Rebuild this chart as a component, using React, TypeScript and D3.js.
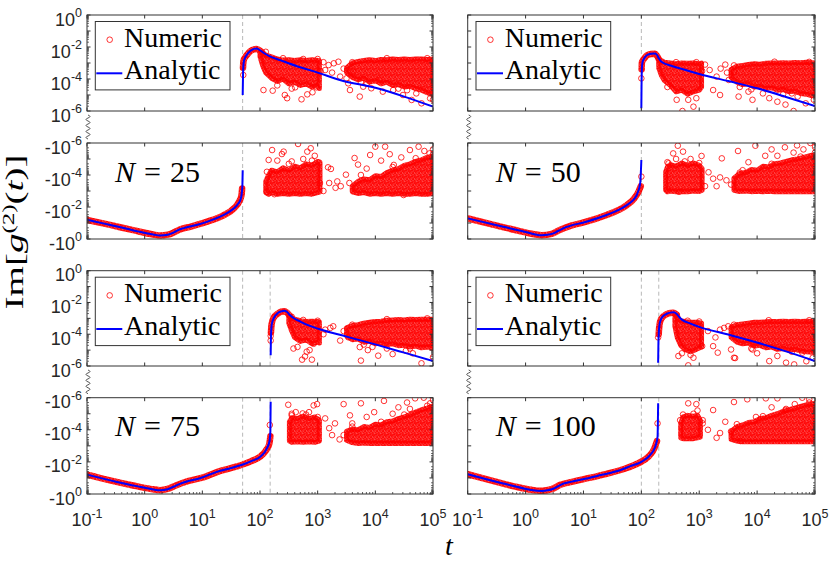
import React from 'react';
import * as d3 from 'd3';

// every pair is [log10 t, log10 |Im g2|]; cloud rows are [log10 t, top, bottom]
type P = [number, number];
type B = [number, number, number];

const xExps = [-1, 0, 1, 2, 3, 4, 5];
const upLabelExps = [0, -2, -4, -6];
const lowLabelExps = [-6, -4, -2, 0];

// ---------- N = 25 ----------
const dash25 = [50];
const up25Line: P[] = [[1.70, -5.0], [1.705, -3.9], [1.71, -3.3], [1.72, -2.9], [1.75, -2.6], [1.8, -2.36], [1.86, -2.18], [1.94, -2.1], [1.99, -2.18], [2.06, -2.36], [2.17, -2.58], [2.35, -2.82], [2.64, -3.2], [3.0, -3.6], [3.4, -4.08], [4.0, -4.55], [4.5, -5.1], [5.0, -5.73]];
const up25Num: P[] = [[1.705, -3.3], [1.715, -2.85], [1.75, -2.6], [1.8, -2.38], [1.86, -2.2], [1.94, -2.13], [1.99, -2.2], [2.04, -2.35]];
const up25Cloud: B[][] = [
  [[2.0, -2.35, -2.6], [2.05, -2.4, -3.2], [2.1, -2.5, -3.6], [2.2, -2.62, -3.95], [2.3, -2.75, -4.15], [2.4, -2.82, -4.0], [2.5, -2.8, -4.3], [2.6, -2.85, -4.2], [2.7, -2.8, -4.4], [2.8, -2.85, -4.3], [2.9, -2.8, -4.5], [2.98, -2.82, -4.4], [3.03, -2.85, -4.6]],
  [[3.5, -3.3, -3.6], [3.6, -3.0, -3.9], [3.7, -2.9, -4.05], [3.8, -2.85, -3.95], [3.9, -2.8, -4.2], [4.0, -2.85, -4.1], [4.1, -2.78, -4.3], [4.2, -2.8, -4.2], [4.3, -2.75, -4.4], [4.4, -2.78, -4.35], [4.5, -2.75, -4.5], [4.6, -2.78, -4.45], [4.7, -2.75, -4.6], [4.8, -2.75, -4.7], [4.9, -2.78, -4.85], [5.0, -2.75, -5.0]],
];
const up25Pts: P[] = [[1.71, -3.75], [2.06, -4.69], [2.22, -4.73], [2.43, -5.0], [2.47, -5.2], [2.61, -4.52], [2.72, -5.27], [2.82, -4.96], [2.91, -4.83], [2.98, -4.52], [2.3, -4.4], [2.55, -4.6],
  [2.1, -2.3], [2.4, -2.7], [2.75, -2.75], [3.0, -2.75], [3.05, -3.5],
  [3.13, -3.44], [3.19, -3.13], [3.28, -3.02], [3.36, -2.92], [3.45, -3.35], [3.39, -3.85], [3.53, -4.27], [3.56, -4.69], [3.73, -5.1], [3.5, -3.96], [3.62, -3.54], [3.1, -2.95], [3.25, -3.6],
  [3.6, -2.95], [4.2, -2.7], [4.9, -2.7], [3.75, -4.2], [4.55, -4.7],
  [3.79, -4.48], [3.93, -4.58], [4.13, -4.79], [4.31, -4.69], [4.48, -5.0], [4.63, -5.31], [4.8, -5.52], [4.95, -5.21], [5.0, -5.3], [4.07, -4.06], [4.71, -4.9], [4.4, -4.6], [3.85, -4.3]];
const low25Line: P[] = [[-1, -1.2], [-0.7, -0.96], [-0.4, -0.72], [-0.1, -0.46], [0.15, -0.28], [0.27, -0.22], [0.4, -0.27], [0.5, -0.4], [0.58, -0.56], [0.68, -0.68], [0.9, -0.88], [1.1, -1.1], [1.3, -1.38], [1.45, -1.66], [1.55, -1.92], [1.62, -2.2], [1.665, -2.5], [1.685, -2.9], [1.695, -3.4], [1.70, -4.3]];
const low25Num: P[] = [[-1, -1.2], [-0.6, -0.88], [-0.2, -0.55], [0.15, -0.28], [0.27, -0.22], [0.4, -0.27], [0.5, -0.4], [0.6, -0.58], [0.8, -0.78], [1.1, -1.1], [1.35, -1.45], [1.55, -1.92], [1.64, -2.35], [1.68, -2.75], [1.69, -3.15]];
const low25Cloud: B[][] = [
  [[2.1, -3.6, -2.9], [2.15, -4.0, -2.8], [2.2, -4.3, -2.9], [2.3, -4.2, -2.8], [2.4, -4.45, -2.85], [2.5, -4.3, -2.8], [2.6, -4.55, -2.85], [2.7, -4.45, -2.8], [2.8, -4.7, -2.85], [2.9, -4.6, -2.8], [3.0, -4.85, -2.9], [3.04, -4.8, -2.95]],
  [[3.6, -3.3, -2.95], [3.7, -3.6, -2.85], [3.8, -3.75, -2.9], [3.9, -3.7, -2.8], [4.0, -3.95, -2.85], [4.1, -3.9, -2.8], [4.2, -4.15, -2.85], [4.3, -4.3, -2.8], [4.4, -4.4, -2.85], [4.5, -4.6, -2.8], [4.6, -4.7, -2.8], [4.7, -4.85, -2.85], [4.8, -4.95, -2.8], [4.9, -5.1, -2.8], [5.0, -5.2, -2.85]],
];
const low25Pts: P[] = [[2.66, -5.94], [2.21, -5.56], [2.41, -5.46], [2.15, -4.94], [2.38, -5.31], [2.82, -5.46], [2.88, -5.67], [2.3, -4.9], [2.55, -4.85], [2.75, -5.0], [2.12, -2.95], [2.95, -5.2],
  [2.12, -4.2], [2.5, -4.7], [2.9, -4.9], [3.04, -3.5], [2.25, -2.8],
  [3.18, -4.48], [3.23, -4.38], [3.2, -3.5], [3.34, -3.6], [3.49, -4.02], [3.64, -5.06], [3.7, -4.65], [3.31, -3.2], [3.55, -3.5], [3.4, -3.3], [3.1, -3.0],
  [3.75, -4.0], [4.3, -4.5], [4.7, -5.05], [5.0, -5.3], [3.65, -3.2],
  [4.0, -5.77], [4.17, -5.77], [3.91, -5.25], [4.32, -4.63], [4.6, -5.56], [4.75, -5.77], [4.94, -5.35], [4.49, -2.75], [4.1, -4.9], [4.45, -5.1], [4.85, -5.5], [3.85, -4.4], [5.0, -5.6], [4.25, -5.3]];

// ---------- N = 50 ----------
const dash50 = [100];
const up50Line: P[] = [[2.0, -5.83], [2.003, -4.5], [2.01, -3.3], [2.02, -2.95], [2.05, -2.7], [2.1, -2.5], [2.17, -2.42], [2.236, -2.4], [2.27, -2.5], [2.3, -2.7], [2.34, -2.9], [2.54, -3.2], [2.75, -3.42], [3.0, -3.69], [3.5, -4.13], [4.0, -4.58], [4.5, -5.12], [5.0, -5.69]];
const up50Num: P[] = [[2.005, -3.4], [2.01, -2.95], [2.05, -2.72], [2.1, -2.52], [2.17, -2.44], [2.236, -2.42], [2.27, -2.55], [2.3, -2.75]];
const up50Cloud: B[][] = [
  [[2.3, -2.75, -3.3], [2.35, -2.9, -3.8], [2.4, -2.95, -4.1], [2.5, -3.0, -4.4], [2.6, -3.05, -4.8], [2.7, -3.0, -4.7], [2.8, -3.02, -4.95], [2.9, -3.0, -4.8], [3.0, -3.05, -4.7], [3.04, -3.0, -4.5]],
  [[3.55, -3.4, -3.9], [3.65, -3.2, -4.2], [3.75, -3.15, -4.35], [3.85, -3.1, -4.3], [3.95, -3.05, -4.5], [4.05, -3.08, -4.45], [4.15, -3.02, -4.6], [4.25, -3.0, -4.55], [4.35, -3.0, -4.7], [4.45, -2.98, -4.65], [4.55, -3.0, -4.8], [4.65, -2.97, -4.75], [4.75, -2.98, -4.9], [4.85, -2.96, -4.95], [4.95, -2.98, -5.05], [5.0, -3.0, -5.05]],
];
const up50Pts: P[] = [[2.0, -3.96], [2.71, -6.0], [2.9, -5.73], [2.61, -5.3], [2.81, -5.3], [2.45, -4.5], [2.95, -5.2],
  [2.35, -2.9], [2.6, -2.95], [2.95, -2.95], [3.05, -3.5],
  [3.24, -4.69], [3.36, -5.0], [3.18, -3.44], [3.37, -3.35], [3.48, -3.6], [3.51, -4.06], [3.68, -5.1], [3.6, -3.54], [3.3, -3.85], [3.1, -3.1], [3.45, -3.1],
  [3.6, -3.15], [4.3, -2.92], [4.9, -2.93], [3.9, -4.65], [4.6, -4.9],
  [3.85, -4.79], [3.92, -5.3], [4.21, -5.2], [4.35, -5.42], [4.63, -6.0], [4.49, -5.6], [4.84, -5.52], [4.98, -5.3], [4.1, -4.9], [4.7, -5.1], [3.7, -4.5], [4.45, -4.95]];
const low50Line: P[] = [[-1, -1.29], [-0.385, -0.77], [0.02, -0.42], [0.15, -0.3], [0.28, -0.23], [0.38, -0.26], [0.48, -0.35], [0.56, -0.5], [0.65, -0.67], [1.05, -1.08], [1.4, -1.5], [1.6, -1.8], [1.75, -2.12], [1.85, -2.4], [1.92, -2.75], [1.98, -3.48], [2.0, -4.94]];
const low50Num: P[] = [[-1, -1.29], [-0.6, -0.93], [-0.2, -0.58], [0.15, -0.3], [0.28, -0.24], [0.45, -0.32], [0.6, -0.58], [0.8, -0.85], [1.05, -1.08], [1.4, -1.5], [1.6, -1.8], [1.75, -2.12], [1.88, -2.55], [1.95, -2.95], [1.99, -3.3]];
const low50Cloud: B[][] = [
  [[2.42, -4.2, -3.05], [2.45, -4.5, -2.95], [2.5, -4.65, -3.0], [2.6, -4.55, -2.95], [2.7, -4.75, -2.97], [2.8, -4.6, -2.95], [2.9, -4.75, -3.0], [3.0, -4.6, -2.97], [3.05, -4.4, -3.05]],
  [[3.6, -3.8, -3.05], [3.7, -4.1, -2.97], [3.8, -4.15, -3.0], [3.9, -4.35, -2.96], [4.0, -4.3, -2.98], [4.1, -4.55, -2.96], [4.2, -4.5, -2.98], [4.3, -4.7, -2.96], [4.4, -4.75, -2.97], [4.5, -4.85, -2.96], [4.6, -4.95, -2.97], [4.7, -5.0, -2.96], [4.8, -5.1, -2.97], [4.9, -5.2, -2.96], [5.0, -5.25, -2.96]],
];
const low50Pts: P[] = [[2.0, -3.9], [2.63, -5.83], [2.55, -5.35], [2.72, -5.46], [3.04, -5.19], [2.47, -4.73], [2.85, -5.0], [2.6, -5.0], [2.45, -3.1],
  [2.45, -4.8], [2.75, -4.85], [3.0, -4.75], [2.65, -2.95],
  [3.16, -4.17], [3.24, -3.77], [3.36, -3.85], [3.47, -3.67], [3.67, -5.5], [3.39, -5.04], [3.7, -4.15], [3.1, -3.3], [3.3, -3.3], [3.55, -3.4],
  [3.75, -4.3], [4.25, -4.7], [4.75, -5.15], [5.0, -5.4],
  [3.97, -5.83], [4.25, -5.6], [4.48, -5.73], [4.69, -5.85], [4.92, -6.0], [4.14, -5.2], [4.63, -5.4], [3.85, -4.8], [4.35, -5.2], [4.8, -5.6], [5.0, -5.75]];

// ---------- N = 75 ----------
const dash75 = [50, 150];
const up75Line: P[] = [[2.185, -5.33], [2.19, -4.2], [2.2, -3.5], [2.22, -3.15], [2.24, -2.98], [2.31, -2.66], [2.37, -2.56], [2.42, -2.52], [2.47, -2.6], [2.52, -2.8], [2.58, -2.98], [2.7, -3.2], [2.81, -3.4], [3.02, -3.67], [3.5, -4.15], [4.0, -4.64], [4.5, -5.16], [5.0, -5.69]];
const up75Num: P[] = [[2.19, -3.9], [2.2, -3.4], [2.23, -3.0], [2.31, -2.7], [2.37, -2.58], [2.42, -2.55], [2.47, -2.65], [2.52, -2.85]];
const up75Cloud: B[][] = [
  [[2.5, -2.85, -3.3], [2.55, -2.95, -3.8], [2.6, -3.05, -4.2], [2.7, -3.15, -4.45], [2.8, -3.2, -4.35], [2.9, -3.18, -4.6], [3.0, -3.2, -4.5], [3.03, -3.22, -4.55]],
  [[3.5, -3.6, -4.1], [3.6, -3.45, -4.35], [3.7, -3.4, -4.3], [3.8, -3.3, -4.5], [3.9, -3.25, -4.45], [4.0, -3.2, -4.6], [4.1, -3.18, -4.55], [4.2, -3.12, -4.65], [4.3, -3.1, -4.6], [4.4, -3.08, -4.72], [4.5, -3.1, -4.7], [4.6, -3.05, -4.8], [4.7, -3.07, -4.75], [4.8, -3.05, -4.85], [4.9, -3.05, -4.8], [5.0, -3.05, -4.9]],
];
const up75Pts: P[] = [[2.185, -4.1], [2.185, -4.4], [2.73, -5.6], [2.9, -5.6], [2.81, -5.1], [2.58, -4.9], [2.93, -4.6], [2.78, -5.4], [2.65, -4.8], [2.86, -5.0],
  [2.55, -2.9], [2.75, -3.1], [3.0, -3.15],
  [3.13, -3.71], [3.22, -3.6], [3.39, -4.4], [3.53, -4.19], [3.73, -4.81], [3.27, -3.5], [3.45, -3.8], [3.1, -4.0],
  [3.6, -3.4], [4.2, -3.05], [4.9, -3.0], [3.8, -4.65], [4.6, -4.9],
  [3.75, -5.66], [4.05, -5.35], [4.8, -5.83], [5.0, -5.45], [4.3, -5.25], [4.53, -5.04], [3.87, -5.0], [4.2, -4.9], [4.65, -5.2], [3.95, -4.8]];
const low75Line: P[] = [[-1, -1.21], [-0.48, -0.75], [-0.07, -0.44], [0.15, -0.28], [0.266, -0.23], [0.4, -0.3], [0.5, -0.45], [0.6, -0.62], [0.75, -0.8], [0.96, -0.98], [1.25, -1.38], [1.5, -1.62], [1.69, -1.82], [1.85, -2.05], [2.0, -2.31], [2.12, -2.84], [2.165, -3.3], [2.18, -3.9], [2.185, -5.75]];
const low75Num: P[] = [[-1, -1.21], [-0.6, -0.85], [-0.2, -0.53], [0.1, -0.32], [0.266, -0.24], [0.4, -0.32], [0.55, -0.55], [0.75, -0.8], [1.0, -1.02], [1.3, -1.42], [1.6, -1.72], [1.85, -2.05], [2.0, -2.32], [2.1, -2.7], [2.16, -3.1], [2.18, -3.6]];
const low75Cloud: B[][] = [
  [[2.51, -4.5, -3.3], [2.55, -4.75, -3.22], [2.65, -4.7, -3.25], [2.75, -4.85, -3.22], [2.85, -4.7, -3.25], [2.95, -4.8, -3.22], [3.03, -4.6, -3.3]],
  [[3.5, -3.9, -3.35], [3.6, -4.05, -3.2], [3.7, -4.0, -3.15], [3.8, -4.2, -3.18], [3.9, -4.15, -3.15], [4.0, -4.35, -3.15], [4.1, -4.3, -3.15], [4.2, -4.5, -3.15], [4.3, -4.55, -3.15], [4.4, -4.7, -3.15], [4.5, -4.8, -3.15], [4.6, -4.95, -3.15], [4.7, -5.1, -3.15], [4.8, -5.25, -3.15], [4.9, -5.35, -3.15], [5.0, -5.5, -3.15]],
];
const low75Pts: P[] = [[2.49, -5.56], [2.74, -5.02], [2.93, -5.52], [2.99, -5.6], [2.62, -5.1], [2.55, -5.0], [2.85, -5.1], [2.17, -4.3],
  [2.55, -4.9], [2.8, -4.95], [3.0, -4.8],
  [3.13, -4.71], [3.25, -3.67], [3.3, -4.4], [3.45, -3.67], [3.56, -4.9], [3.45, -5.6], [3.2, -4.1], [3.38, -3.4], [3.6, -4.4],
  [3.6, -4.2], [4.1, -4.5], [4.5, -4.95], [4.9, -5.5],
  [3.75, -5.65], [4.69, -5.96], [4.84, -6.0], [4.95, -5.65], [3.98, -5.1], [4.4, -5.4], [4.15, -5.8], [3.85, -4.8], [4.3, -5.0], [4.6, -5.3], [5.0, -5.85], [4.55, -5.7]];

// ---------- N = 100 ----------
const dash100 = [100, 200];
const up100Line: P[] = [[2.29, -5.79], [2.295, -4.5], [2.31, -3.5], [2.33, -3.15], [2.35, -2.98], [2.44, -2.71], [2.5, -2.64], [2.55, -2.62], [2.61, -2.72], [2.65, -2.9], [2.7, -3.08], [2.85, -3.33], [3.0, -3.54], [3.5, -4.02], [3.98, -4.5], [4.5, -5.08], [5.0, -5.69]];
const up100Num: P[] = [[2.3, -4.0], [2.31, -3.5], [2.34, -3.05], [2.44, -2.73], [2.5, -2.66], [2.55, -2.65], [2.61, -2.76]];
const up100Cloud: B[][] = [
  [[2.58, -2.8, -3.5], [2.62, -3.0, -4.2], [2.68, -3.15, -4.7], [2.75, -3.2, -4.95], [2.85, -3.25, -5.1], [2.95, -3.25, -4.95], [3.04, -3.3, -4.8]],
  [[3.55, -3.55, -4.2], [3.65, -3.4, -4.5], [3.75, -3.35, -4.6], [3.85, -3.3, -4.55], [3.95, -3.25, -4.75], [4.05, -3.25, -4.7], [4.15, -3.22, -4.85], [4.25, -3.2, -4.8], [4.35, -3.2, -4.95], [4.45, -3.18, -4.9], [4.55, -3.2, -5.0], [4.65, -3.18, -4.95], [4.75, -3.2, -5.05], [4.85, -3.18, -5.1], [5.0, -3.2, -5.15]],
];
const up100Pts: P[] = [[2.29, -4.2], [2.81, -5.96], [2.64, -5.37], [2.9, -5.48], [3.05, -4.75], [2.7, -5.2], [2.85, -5.3],
  [2.62, -2.9], [2.8, -3.15], [3.0, -3.2],
  [3.24, -4.75], [3.32, -5.16], [3.36, -3.71], [3.6, -5.48], [3.55, -4.96], [3.43, -3.6], [3.15, -3.8], [3.28, -4.2], [3.5, -3.5],
  [3.6, -3.4], [4.2, -3.12], [4.9, -3.12], [3.9, -4.9], [4.6, -5.1],
  [3.92, -4.96], [4.21, -5.69], [4.5, -5.79], [4.64, -5.9], [4.78, -5.16], [4.96, -5.48], [4.35, -5.37], [3.62, -5.5], [4.0, -5.2], [4.85, -5.7]];
const low100Line: P[] = [[-1, -1.23], [-0.385, -0.65], [0.076, -0.27], [0.2, -0.2], [0.278, -0.19], [0.38, -0.23], [0.48, -0.33], [0.56, -0.48], [0.65, -0.65], [0.8, -0.77], [1.05, -0.96], [1.3, -1.18], [1.63, -1.48], [1.8, -1.72], [2.0, -2.0], [2.15, -2.42], [2.24, -2.94], [2.28, -3.56], [2.29, -5.65]];
const low100Num: P[] = [[-1, -1.23], [-0.6, -0.85], [-0.2, -0.48], [0.1, -0.26], [0.278, -0.2], [0.45, -0.3], [0.6, -0.57], [0.85, -0.8], [1.1, -1.0], [1.4, -1.26], [1.7, -1.56], [1.95, -1.92], [2.12, -2.32], [2.22, -2.8], [2.27, -3.3]];
const low100Cloud: B[][] = [
  [[2.68, -4.4, -3.5], [2.72, -4.8, -3.45], [2.8, -4.9, -3.45], [2.9, -4.85, -3.45], [2.97, -4.9, -3.5], [3.02, -4.6, -3.55]],
  [[3.55, -3.9, -3.4], [3.65, -4.2, -3.3], [3.75, -4.3, -3.25], [3.85, -4.45, -3.25], [3.95, -4.5, -3.25], [4.05, -4.7, -3.25], [4.15, -4.75, -3.25], [4.25, -4.9, -3.25], [4.35, -5.0, -3.25], [4.45, -5.15, -3.25], [4.55, -5.25, -3.25], [4.65, -5.35, -3.25], [4.75, -5.45, -3.25], [4.85, -5.55, -3.25], [5.0, -5.65, -3.25]],
];
const low100Pts: P[] = [[2.81, -5.65], [2.95, -5.6], [2.67, -4.6], [3.06, -4.6], [2.97, -5.2], [2.28, -4.4],
  [2.72, -4.95], [2.9, -5.0],
  [3.24, -5.23], [3.06, -4.4], [3.15, -4.0], [3.36, -3.8], [3.55, -3.9], [3.71, -3.3], [3.6, -5.73], [3.3, -3.5], [3.45, -4.5],
  [3.65, -4.35], [4.1, -4.85], [4.5, -5.3], [4.9, -5.7],
  [3.83, -5.9], [4.15, -5.96], [4.35, -5.96], [4.78, -6.0], [4.49, -5.23], [3.98, -4.8], [4.65, -5.6], [4.9, -5.9], [4.25, -5.4]];

const panels = [
  { n: 25, col: 0, row: 0, dashes: dash25, up: [up25Line, up25Num, up25Cloud, up25Pts], low: [low25Line, low25Num, low25Cloud, low25Pts] },
  { n: 50, col: 1, row: 0, dashes: dash50, up: [up50Line, up50Num, up50Cloud, up50Pts], low: [low50Line, low50Num, low50Cloud, low50Pts] },
  { n: 75, col: 0, row: 1, dashes: dash75, up: [up75Line, up75Num, up75Cloud, up75Pts], low: [low75Line, low75Num, low75Cloud, low75Pts] },
  { n: 100, col: 1, row: 1, dashes: dash100, up: [up100Line, up100Num, up100Cloud, up100Pts], low: [low100Line, low100Num, low100Cloud, low100Pts] },
] as const;

const COLS = [{ x0: 87, x1: 433 }, { x0: 467.7, x1: 815 }];
const ROWS = [{ uTop: 15, uBot: 111, lTop: 143, lBot: 239 }, { uTop: 270.7, uBot: 366, lTop: 397.7, lBot: 494 }];

const AX = '#333333';
const RED = '#ff0000';
const BLUE = '#0000ff';
const SANS = '"Liberation Sans", Arial, sans-serif';
const SERIF = '"Liberation Serif", "Times New Roman", serif';

const p10 = (e: number) => Math.pow(10, e);

// ring texture used to paint the dense marker clouds
const ringSpots = [[1, 1.2], [4.2, 2.1], [2.2, 4.6], [5.2, 5.0], [3.2, 0.2]];
const TILE = 6;

function Pow({ x, y, base, exp, anchor }: { x: number; y: number; base: string; exp: number; anchor: 'end' | 'middle' }) {
  return (
    <text x={x} y={y} textAnchor={anchor} fontFamily={SANS} fontSize={18} fill="#262626">
      <tspan>{base}</tspan>
      <tspan dy={-8.5} fontSize={12.5}>{exp}</tspan>
    </text>
  );
}

function wiggle(x: number, y0: number, y1: number) {
  const n = 8;
  const h = (y1 - y0) / n;
  let d = `M${x},${y0}`;
  for (let i = 0; i < n; i++) {
    d += ` Q${x + (i % 2 ? -4 : 4)},${y0 + h * (i + 0.5)} ${x},${y0 + h * (i + 1)}`;
  }
  return d;
}

function SubAxes({ id, x, y, top, bot, x0, x1, line, num, cloud, pts, dashes, leftLabels, minorLeft, minorBottom, flip }: any) {
  const xp = (d: P | B) => x(p10(d[0]));
  const lineGen = d3.line<P>().x(xp).y(d => y(p10(d[1]))).curve(d3.curveMonotoneX);
  const areaGen = d3.area<B>().x(xp).y0(d => y(p10(d[2]))).y1(d => y(p10(d[1]))).curve(d3.curveLinear);
  const majorY = d3.range(-6, 1);
  const minorY: number[] = [];
  for (let e = -6; e < 0; e++) for (let m = 2; m <= 9; m++) minorY.push(m * p10(e));
  const minorX: number[] = [];
  for (let e = -1; e < 5; e++) for (let m = 2; m <= 9; m++) minorX.push(m * p10(e));
  return (
    <g>
      <defs>
        <clipPath id={id}><rect x={x0} y={top} width={x1 - x0} height={bot - top} /></clipPath>
      </defs>
      <g clipPath={`url(#${id})`}>
        {dashes.map((t: number) => (
          <line key={t} x1={x(t)} x2={x(t)} y1={top} y2={bot} stroke="#9a9a9a" strokeWidth={0.7} strokeDasharray="4 3" />
        ))}
        {cloud.map((seg: B[], i: number) => (
          <path key={i} d={areaGen(seg) || ''} fill="url(#cloud)" stroke="url(#cloud)" strokeWidth={5} strokeLinejoin="round" />
        ))}
        <path d={lineGen(num) || ''} fill="none" stroke="url(#cloud)" strokeWidth={6.5} strokeLinecap="round" />
        {pts.map((d: P, i: number) => (
          <circle key={i} cx={xp(d)} cy={y(p10(d[1]))} r={2.8} fill="none" stroke={RED} strokeWidth={0.8} />
        ))}
        <path d={lineGen(line) || ''} fill="none" stroke={BLUE} strokeWidth={2} />
      </g>
      <rect x={x0} y={top} width={x1 - x0} height={bot - top} fill="none" stroke={AX} strokeWidth={1} />
      {xExps.map(e => (
        <g key={e}>
          <line x1={x(p10(e))} x2={x(p10(e))} y1={top} y2={top + 3.5} stroke={AX} />
          <line x1={x(p10(e))} x2={x(p10(e))} y1={bot} y2={bot - 3.5} stroke={AX} />
        </g>
      ))}
      {minorBottom && minorX.map((t, i) => (
        <line key={i} x1={x(t)} x2={x(t)} y1={bot} y2={bot - 2} stroke={AX} strokeWidth={0.8} />
      ))}
      {majorY.map(e => (
        <g key={e}>
          <line x1={x0} x2={x0 + 3.5} y1={y(p10(e))} y2={y(p10(e))} stroke={AX} />
          <line x1={x1} x2={x1 - 3.5} y1={y(p10(e))} y2={y(p10(e))} stroke={AX} />
        </g>
      ))}
      {minorY.map((v, i) => (
        <g key={i}>
          {minorLeft && <line x1={x0} x2={x0 + 2} y1={y(v)} y2={y(v)} stroke={AX} strokeWidth={0.7} />}
          <line x1={x1} x2={x1 - 2} y1={y(v)} y2={y(v)} stroke={AX} strokeWidth={0.7} />
        </g>
      ))}
      {leftLabels && leftLabels.map((e: number) => (
        <Pow key={e} x={x0 - 5} y={y(p10(e)) + 10.5} base={flip ? '-10' : '10'} exp={e} anchor="end" />
      ))}
    </g>
  );
}

export default function App() {
  return (
    <svg width={830} height={575} style={{ position: 'absolute', left: 0, top: 0, background: '#fff' }}>
      <defs>
        <pattern id="cloud" patternUnits="userSpaceOnUse" width={TILE} height={TILE}>
          {ringSpots.flatMap(([cx, cy], i) =>
            [-TILE, 0, TILE].flatMap(dx => [-TILE, 0, TILE].map(dy => (
              <circle key={`${i}-${dx}-${dy}`} cx={cx + dx} cy={cy + dy} r={2.6} fill="none" stroke={RED} strokeWidth={0.8} />
            ))))}
        </pattern>
      </defs>
      {panels.map(p => {
        const c = COLS[p.col];
        const r = ROWS[p.row];
        const x = d3.scaleLog().domain([0.1, 1e5]).range([c.x0, c.x1]);
        const yUp = d3.scaleLog().domain([1e-6, 1]).range([r.uBot, r.uTop]);
        const yLow = d3.scaleLog().domain([1e-6, 1]).range([r.lTop, r.lBot]);
        const left = p.col === 0;
        const bottomRow = p.row === 1;
        return (
          <g key={p.n}>
            <SubAxes id={`u${p.n}`} x={x} y={yUp} top={r.uTop} bot={r.uBot} x0={c.x0} x1={c.x1}
              line={p.up[0]} num={p.up[1]} cloud={p.up[2]} pts={p.up[3]} dashes={p.dashes}
              leftLabels={left ? upLabelExps : null} minorLeft={left} minorBottom={false} flip={false} />
            <SubAxes id={`l${p.n}`} x={x} y={yLow} top={r.lTop} bot={r.lBot} x0={c.x0} x1={c.x1}
              line={p.low[0]} num={p.low[1]} cloud={p.low[2]} pts={p.low[3]} dashes={p.dashes}
              leftLabels={left ? lowLabelExps : null} minorLeft={left} minorBottom={bottomRow} flip={true} />
            <path d={wiggle(c.x0 + 1, r.uBot + 4, r.lTop - 4)} fill="none" stroke="#444" strokeWidth={0.9} />
            {/* legend */}
            <g>
              <rect x={c.x0 + 8.3} y={r.uTop + 6.5} width={134.7} height={68.4} fill="#fff" stroke={AX} strokeWidth={1} />
              <circle cx={c.x0 + 22.7} cy={r.uTop + 24.7} r={2.8} fill="none" stroke={RED} strokeWidth={0.8} />
              <line x1={c.x0 + 9.3} x2={c.x0 + 35.3} y1={r.uTop + 58.3} y2={r.uTop + 58.3} stroke={BLUE} strokeWidth={2} />
              <text x={c.x0 + 37} y={r.uTop + 31.5} fontFamily={SERIF} fontSize={28} fill="#000">Numeric</text>
              <text x={c.x0 + 37} y={r.uTop + 64.3} fontFamily={SERIF} fontSize={28} fill="#000">Analytic</text>
            </g>
            <text y={r.lTop + 38.7} fontFamily={SERIF} fontSize={30} fill="#000">
              <tspan x={c.x0 + 28} fontStyle="italic">N</tspan>
              <tspan x={c.x0 + 57}>=</tspan>
              <tspan x={c.x0 + 83}>{p.n}</tspan>
            </text>
            {bottomRow && xExps.map(e => (
              <Pow key={e} x={x(p10(e))} y={526} base="10" exp={e} anchor="middle" />
            ))}
          </g>
        );
      })}
      <text transform="translate(23,232) rotate(-90)" textAnchor="middle" fontFamily={SERIF} fontSize={25}
        textLength={155} lengthAdjust="spacingAndGlyphs" fill="#000">
        Im[<tspan fontStyle="italic">g</tspan><tspan dy={-9} fontSize={16}>(2)</tspan><tspan dy={9}>(</tspan><tspan fontStyle="italic">t</tspan>)]
      </text>
      <text x={449} y={555} textAnchor="middle" fontFamily={SERIF} fontSize={28} fontStyle="italic" fill="#000">t</text>
    </svg>
  );
}
